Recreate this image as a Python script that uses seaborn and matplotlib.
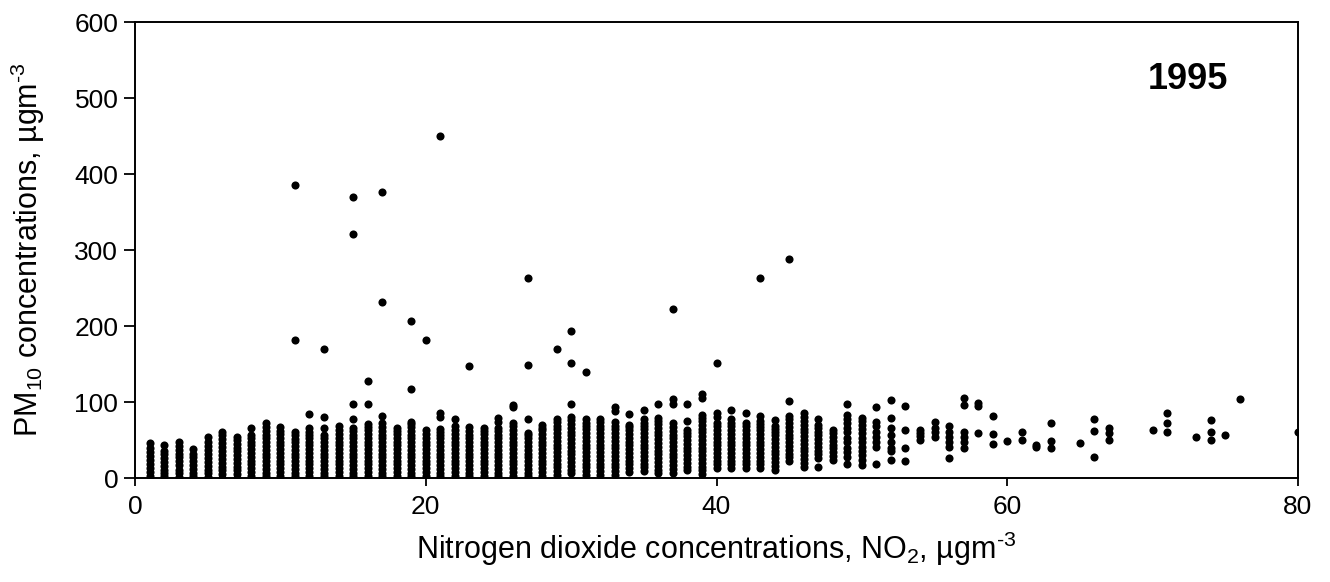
import matplotlib
matplotlib.use("Agg")
import matplotlib.pyplot as plt
import seaborn as sns
import pandas as pd

# ---- data: PM10 values (ug/m3) observed at each integer NO2 level (ug/m3), 1995 ----
cols_01_10 = {
    1: [3, 8, 13, 18, 24, 29, 34, 40, 46],
    2: [2, 6, 11, 16, 21, 26, 31, 35, 44],
    3: [1, 6, 11, 17, 22, 27, 32, 37, 42, 47],
    4: [2, 7, 12, 17, 22, 27, 32, 38],
    5: [1, 6, 11, 16, 21, 26, 32, 37, 42, 48, 54],
    6: [0, 5, 10, 15, 20, 25, 30, 36, 41, 46, 51, 56, 61],
    7: [0, 5, 10, 15, 20, 25, 30, 35, 40, 45, 50, 54],
    8: [3, 8, 13, 18, 23, 28, 33, 38, 43, 48, 52, 57, 66],
    9: [2, 7, 12, 17, 22, 27, 32, 37, 42, 47, 52, 57, 62, 67, 73],
    10: [3, 8, 13, 18, 23, 28, 33, 38, 43, 48, 53, 58, 62, 67],
}
cols_11_20 = {
    11: [2, 7, 12, 17, 22, 27, 32, 37, 42, 47, 51, 56, 60, 181, 385],
    12: [3, 8, 13, 18, 23, 28, 33, 38, 43, 48, 52, 57, 61, 66, 84],
    13: [2, 7, 12, 17, 22, 27, 32, 37, 42, 47, 52, 57, 66, 80, 170],
    14: [3, 8, 13, 18, 23, 28, 33, 38, 43, 48, 53, 58, 63, 68],
    15: [2, 7, 12, 17, 22, 27, 32, 37, 42, 47, 52, 57, 62, 66, 78, 98, 321, 370],
    16: [3, 8, 13, 18, 23, 28, 33, 38, 43, 48, 53, 58, 63, 67, 71, 98, 127],
    17: [2, 7, 12, 17, 22, 27, 32, 37, 42, 47, 52, 57, 62, 67, 72, 81, 231, 376],
    18: [3, 8, 13, 18, 23, 28, 33, 38, 43, 48, 53, 58, 62, 66],
    19: [2, 7, 12, 17, 22, 27, 32, 37, 42, 47, 52, 57, 62, 67, 71, 74, 117, 207],
    20: [3, 8, 13, 18, 23, 28, 33, 38, 43, 48, 53, 58, 63, 182],
}
cols_21_30 = {
    21: [2, 7, 12, 17, 22, 27, 32, 37, 42, 47, 52, 57, 61, 65, 80, 86, 450],
    22: [3, 8, 13, 18, 23, 28, 33, 38, 43, 48, 53, 58, 63, 68, 77],
    23: [2, 7, 12, 17, 22, 27, 32, 37, 42, 47, 52, 57, 62, 67, 147],
    24: [3, 8, 13, 18, 23, 28, 33, 38, 43, 48, 53, 58, 62, 66],
    25: [2, 7, 12, 17, 22, 27, 32, 37, 42, 47, 52, 57, 62, 66, 74, 79],
    26: [3, 8, 13, 18, 23, 28, 33, 38, 43, 48, 53, 58, 63, 68, 73, 94, 96],
    27: [2, 7, 12, 17, 22, 27, 32, 37, 42, 47, 52, 56, 59, 78, 149, 263],
    28: [3, 8, 13, 18, 23, 28, 33, 38, 43, 48, 53, 58, 63, 66, 70],
    29: [4, 9, 14, 19, 24, 29, 34, 39, 44, 49, 54, 59, 64, 69, 74, 78, 170],
    30: [6, 11, 16, 21, 26, 31, 36, 41, 46, 51, 56, 61, 66, 71, 76, 80, 98, 151, 193],
}
cols_31_40 = {
    31: [4, 9, 14, 19, 24, 29, 34, 39, 44, 49, 54, 59, 64, 69, 73, 77, 139],
    32: [4, 9, 14, 19, 24, 29, 34, 39, 44, 49, 54, 59, 64, 69, 74, 78],
    33: [4, 9, 14, 19, 24, 29, 34, 39, 44, 49, 54, 59, 64, 69, 74, 88, 94],
    34: [8, 13, 18, 23, 28, 33, 38, 43, 48, 53, 58, 63, 67, 70, 84],
    35: [9, 14, 19, 24, 29, 34, 39, 44, 49, 54, 59, 64, 69, 73, 77, 89],
    36: [6, 11, 16, 21, 26, 31, 36, 41, 46, 51, 56, 61, 66, 71, 75, 79, 98],
    37: [7, 12, 17, 22, 27, 32, 37, 42, 47, 52, 57, 62, 67, 72, 98, 104, 222],
    38: [10, 15, 20, 25, 30, 35, 40, 45, 50, 55, 59, 63, 75, 98],
    39: [5, 10, 15, 20, 25, 30, 35, 40, 45, 50, 55, 60, 65, 70, 75, 79, 83, 105, 111],
    40: [13, 18, 23, 28, 33, 38, 43, 48, 53, 58, 63, 68, 72, 80, 85, 151],
}
cols_41_53 = {
    41: [13, 18, 23, 28, 33, 38, 43, 48, 53, 58, 63, 68, 73, 77, 90],
    42: [13, 18, 23, 28, 33, 38, 43, 48, 53, 58, 63, 68, 72, 85],
    43: [13, 18, 23, 28, 33, 38, 43, 48, 53, 58, 63, 67, 71, 75, 81, 263],
    44: [11, 16, 21, 26, 31, 36, 41, 46, 51, 56, 61, 65, 68, 76],
    45: [22, 27, 32, 37, 42, 47, 52, 57, 62, 67, 72, 77, 81, 101, 288],
    46: [15, 20, 25, 30, 35, 40, 45, 50, 55, 60, 65, 70, 75, 80, 85],
    47: [14, 26, 31, 36, 41, 46, 51, 56, 61, 66, 70, 78],
    48: [24, 29, 34, 39, 44, 49, 54, 59, 63],
    49: [18, 28, 34, 40, 47, 53, 60, 66, 72, 78, 83, 98],
    50: [17, 24, 30, 36, 41, 47, 53, 59, 65, 70, 75, 79],
    51: [19, 41, 48, 54, 61, 68, 74, 94],
    52: [24, 35, 39, 48, 57, 66, 79, 103],
    53: [22, 39, 63, 95],
}
cols_54_80 = {
    54: [50, 55, 59, 63],
    55: [54, 60, 66, 74],
    56: [26, 41, 48, 54, 61, 68],
    57: [39, 48, 54, 61, 96, 105],
    58: [59, 95, 99],
    59: [45, 58, 82],
    60: [49],
    61: [50, 61],
    62: [41, 44],
    63: [39, 49, 73],
    65: [46],
    66: [27, 62, 77],
    67: [50, 59, 66],
    70: [63],
    71: [61, 72, 85],
    73: [54],
    74: [50, 60, 76],
    75: [57],
    76: [104],
    80: [61],
}

x_ticks = [0, 20, 40, 60, 80]
y_ticks = [0, 100, 200, 300, 400, 500, 600]
year_label = "1995"
x_title = r"Nitrogen dioxide concentrations, NO$_2$, µgm$^{\text{-3}}$"
y_title = r"PM$_{10}$ concentrations, µgm$^{\text{-3}}$"

# ---- build long table ----
rows = []
for group in (cols_01_10, cols_11_20, cols_21_30, cols_31_40, cols_41_53, cols_54_80):
    for no2, pm_list in group.items():
        for pm in pm_list:
            rows.append((no2, pm))
df = pd.DataFrame(rows, columns=["NO2", "PM10"])

# ---- style ----
sns.set_style("ticks")
plt.rcParams["font.family"] = ["Liberation Sans", "DejaVu Sans"]
plt.rcParams["mathtext.fontset"] = "custom"
plt.rcParams["mathtext.rm"] = "Liberation Sans"
plt.rcParams["mathtext.it"] = "Liberation Sans:italic"
plt.rcParams["mathtext.bf"] = "Liberation Sans:bold"
plt.rcParams["text.color"] = "black"
plt.rcParams["axes.labelcolor"] = "black"
plt.rcParams["xtick.color"] = "black"
plt.rcParams["ytick.color"] = "black"

fig = plt.figure(figsize=(13.3, 5.82), dpi=100)
fig.patch.set_facecolor("white")
ax = fig.add_axes([135 / 1330, (582 - 478) / 582, 1163 / 1330, 456 / 582])

sns.scatterplot(data=df, x="NO2", y="PM10", ax=ax, color="black",
                s=34, linewidth=0, marker="o", legend=False)

ax.set_xlim(0, 80)
ax.set_ylim(0, 600)
ax.set_xticks(x_ticks)
ax.set_yticks(y_ticks)
ax.tick_params(axis="x", direction="out", length=6, width=1.3, labelsize=19, pad=6,
               color="black", labelcolor="black")
ax.tick_params(axis="y", direction="out", length=8, width=1.3, labelsize=19, pad=4,
               color="black", labelcolor="black")
for sp in ax.spines.values():
    sp.set_visible(True)
    sp.set_color("black")
    sp.set_linewidth(1.4)

ax.set_xlabel(x_title, fontsize=22, color="black")
ax.set_ylabel(y_title, fontsize=22, color="black")
ax.xaxis.label.set_va("center")
ax.yaxis.label.set_va("center")
ax.xaxis.set_label_coords(0.5, -0.155)
ax.yaxis.set_label_coords(-0.092, 0.5)

ax.text(0.905, 0.873, year_label, transform=ax.transAxes, ha="center", va="center",
        fontsize=26, fontweight="bold", color="black")

fig.savefig("out.png", dpi=100, facecolor="white")
